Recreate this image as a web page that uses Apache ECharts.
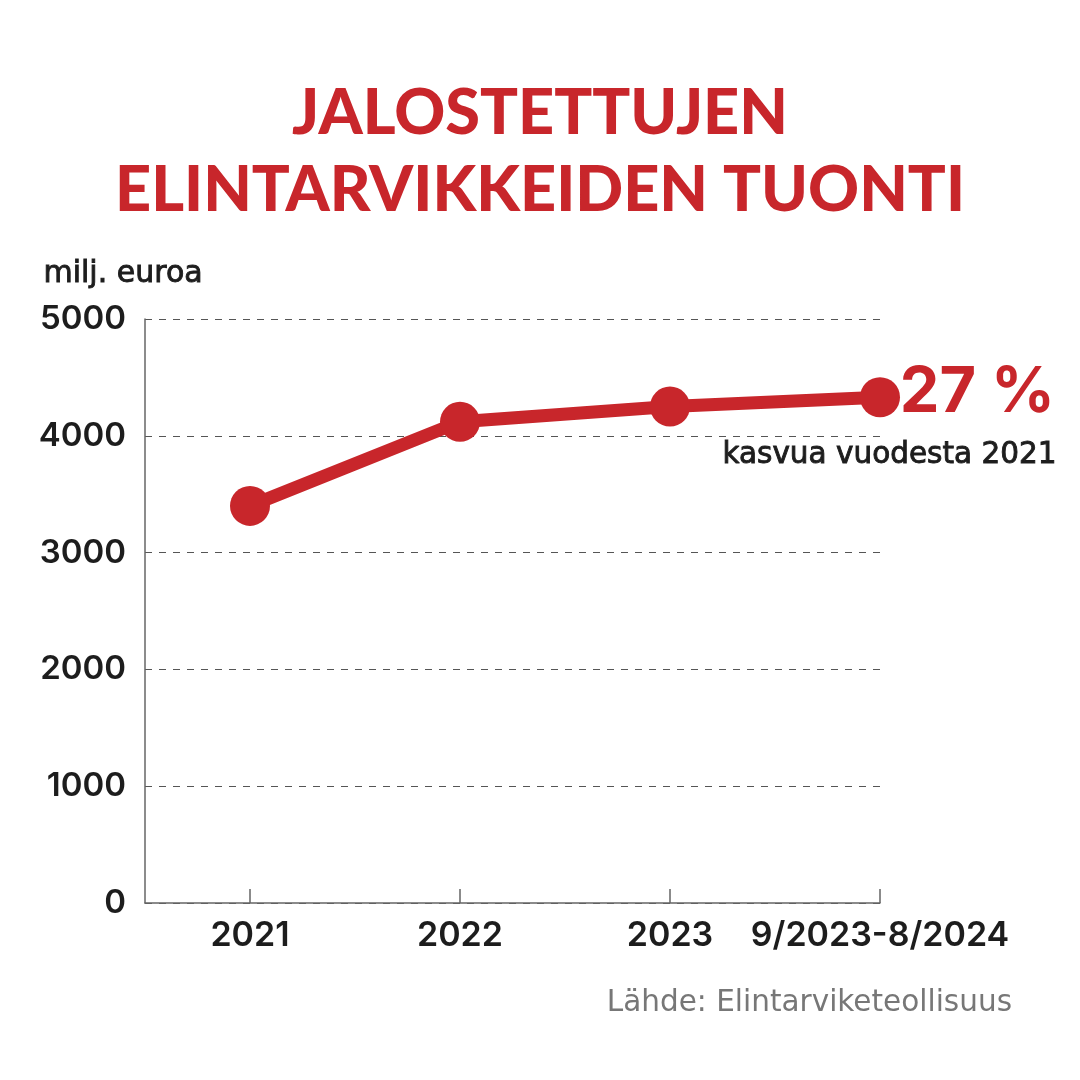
<!DOCTYPE html>
<html>
<head>
<meta charset="utf-8">
<script src="https://cdn.jsdelivr.net/npm/echarts@6/dist/echarts.min.js"></script>
<style>html,body{margin:0;padding:0;background:#fff;}#c{width:1080px;height:1080px;}</style>
</head>
<body>
<div id="c"></div>
<script>
const categories = ['2021', '2022', '2023', '9/2023-8/2024'];
const values = [3400, 4120, 4250, 4330];
const yTicks = [0, 1000, 2000, 3000, 4000, 5000];

const RED = '#C8262B';
const DARK = '#1d1d1d';
const chart = echarts.init(document.getElementById('c'));
const pos = categories.map((c, i) => i);

chart.setOption({
  backgroundColor: '#fff',
  animation: false,
  title: {
    text: 'JALOSTETTUJEN\nELINTARVIKKEIDEN TUONTI',
    left: 'center',
    top: 70,
    textStyle: {
      fontFamily: 'Lato', fontWeight: 900, fontSize: 63, color: RED, lineHeight: 77
    }
  },
  grid: { left: 145, right: 200, top: 319, bottom: 177 },
  xAxis: {
    type: 'value',
    min: -0.5,
    max: 3,
    splitLine: { show: false },
    axisLine: { show: true, onZero: false, lineStyle: { color: '#666', width: 1.5 } },
    axisTick: { show: true, inside: true, length: 14, customValues: pos, lineStyle: { color: '#666', width: 1.5 } },
    axisLabel: {
      customValues: pos,
      formatter: v => categories[Math.round(v)] || '',
      margin: 16,
      fontFamily: 'Inter', fontWeight: 600, fontSize: 34, color: DARK
    }
  },
  yAxis: {
    type: 'value',
    min: 0,
    max: 5000,
    interval: 1000,
    axisLine: { show: true, onZero: false, lineStyle: { color: '#666', width: 1.5 } },
    axisTick: { show: false },
    axisLabel: {
      margin: 19,
      padding: [10, 0, 0, 0],
      formatter: v => yTicks.includes(v) ? String(v) : '',
      fontFamily: 'Inter', fontWeight: 600, fontSize: 33, color: DARK
    },
    splitLine: { show: true, lineStyle: { color: '#555', width: 1, type: [7, 7] } }
  },
  series: [{
    type: 'line',
    data: values.map((v, i) => [pos[i], v]),
    symbol: 'circle',
    symbolSize: 40,
    lineStyle: { color: RED, width: 13 },
    itemStyle: { color: RED },
    z: 5
  }],
  graphic: [
    { type: 'text', left: 43, top: 259, style: { text: 'milj. euroa', font: '30px "DejaVu Sans"', fill: DARK, stroke: DARK, lineWidth: 0.9 } },
    { type: 'text', right: 25, top: 362, style: { text: '27 %', font: 'bold 63px Inter', fill: RED } },
    { type: 'text', right: 23, top: 440, style: { text: 'kasvua vuodesta 2021', font: '29.5px "DejaVu Sans"', fill: DARK, stroke: DARK, lineWidth: 0.9 } },
    { type: 'text', right: 68, top: 988, style: { text: 'Lähde: Elintarviketeollisuus', font: '29.5px "DejaVu Sans"', fill: '#777' } }
  ]
});
</script>
</body>
</html>
